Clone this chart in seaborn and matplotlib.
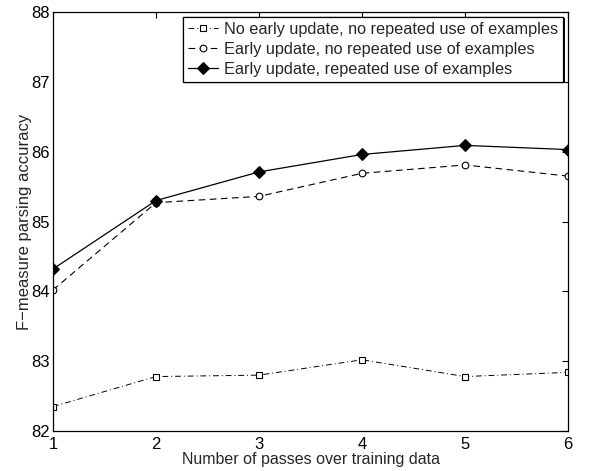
import pandas as pd
import matplotlib
matplotlib.use("Agg")
import matplotlib.pyplot as plt
import matplotlib.patheffects as pe
import seaborn as sns

# Data
passes = [1, 2, 3, 4, 5, 6]
no_early_no_repeat = [82.35, 82.78, 82.80, 83.02, 82.78, 82.84]
early_no_repeat = [84.02, 85.27, 85.36, 85.69, 85.81, 85.65]
early_repeat = [84.32, 85.30, 85.71, 85.96, 86.09, 86.03]

labels = [
    "No early update, no repeated use of examples",
    "Early update, no repeated use of examples",
    "Early update, repeated use of examples",
]


def plotting():
    sns.set_style("white")
    plt.rcParams['font.family'] = ['Liberation Sans', 'DejaVu Sans']
    plt.rcParams['font.size'] = 12

    fig = plt.figure(figsize=(6.0, 4.71), dpi=100)
    ax = fig.add_axes([0.0883, 0.0849, 0.8584, 0.8896])

    # Series 1: open squares, dash-dot line
    sns.lineplot(x=passes, y=no_early_no_repeat, ax=ax, color='black',
                 linewidth=0.7, linestyle=(0, (6, 3, 1, 3)), marker='s',
                 markersize=4.5, markerfacecolor='white', markeredgecolor='black',
                 markeredgewidth=0.8, label=labels[0])
    # Series 2: open circles, dashed line
    sns.lineplot(x=passes, y=early_no_repeat, ax=ax, color='black',
                 linewidth=0.8, linestyle=(0, (6, 4)), marker='o',
                 markersize=4.8, markerfacecolor='white', markeredgecolor='black',
                 markeredgewidth=0.8, label=labels[1])
    # Series 3: filled diamonds, solid line
    sns.lineplot(x=passes, y=early_repeat, ax=ax, color='black',
                 linewidth=0.9, linestyle='-', marker='D',
                 markersize=6.5, markerfacecolor='black', markeredgecolor='black',
                 label=labels[2])

    ax.set_xlim(1, 6)
    ax.set_ylim(82, 88)
    ax.set_xticks(passes)
    ax.set_yticks(range(82, 89))
    ax.set_xlabel('Number of passes over training data', fontsize=11.5, labelpad=0.5)
    ax.set_ylabel('F\u2212measure parsing accuracy', fontsize=12, labelpad=0)
    ax.tick_params(direction='in', length=4, width=0.8, top=True, right=True,
                   labelsize=12, pad=2, colors='black')
    ax.tick_params(axis='x', pad=4)
    for spine in ax.spines.values():
        spine.set_visible(True)
        spine.set_color('black')
        spine.set_linewidth(0.9)

    leg = ax.legend(loc='upper right', fontsize=11.7, frameon=True, fancybox=False,
                    edgecolor='black', framealpha=1, borderaxespad=0.3,
                    handlelength=1.85, handletextpad=0.37, borderpad=0.3,
                    labelspacing=0.32)
    frame = leg.get_frame()
    frame.set_linewidth(0.9)
    frame.set_path_effects([pe.withSimplePatchShadow(offset=(1, -1),
                                                     shadow_rgbFace='black',
                                                     alpha=1),
                            pe.Normal()])

    plt.savefig('out.png', dpi=100)
    plt.close(fig)


if __name__ == "__main__":
    plotting()
